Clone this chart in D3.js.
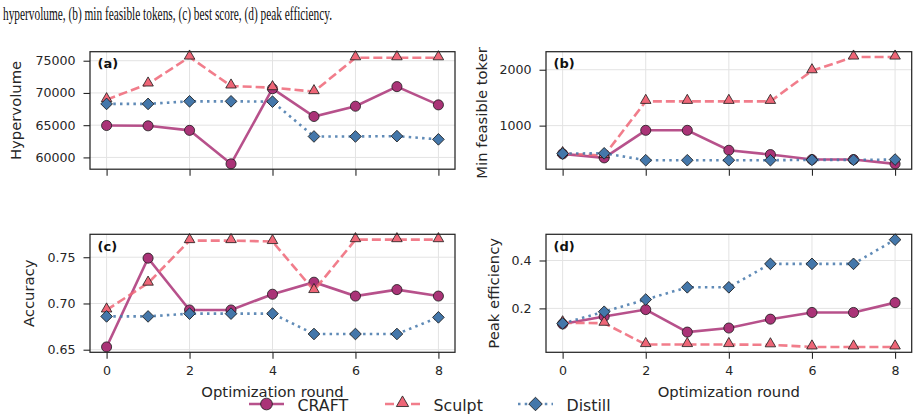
<!DOCTYPE html>
<html>
<head>
<meta charset="utf-8">
<script src="https://cdn.jsdelivr.net/npm/d3@7"></script>
<style>
  html, body { margin: 0; padding: 0; background: #fff; }
  svg { display: block; }
  text { font-family: "DejaVu Sans", sans-serif; }
</style>
</head>
<body>
<svg id="chart" width="919" height="420"></svg>
<script>
// ---------- data ----------
const rounds = [0, 1, 2, 3, 4, 5, 6, 7, 8];
const seriesNames = ["CRAFT", "Sculpt", "Distill"];

const hvCraft   = [64950, 64900, 64200, 59000, 70660, 66350, 67940, 70980, 68150];
const hvSculpt  = [68960, 71390, 75570, 71080, 70820, 70200, 75460, 75460, 75460];
const hvDistill = [68300, 68300, 68700, 68700, 68650, 63250, 63250, 63300, 62800];

const tokCraft   = [494, 423, 916, 916, 559, 482, 393, 393, 316];
const tokSculpt  = [500, 465, 1434, 1434, 1434, 1434, 1982, 2227, 2227];
const tokDistill = [500, 505, 381, 381, 381, 381, 387, 387, 393];

const accCraft   = [0.653, 0.749, 0.693, 0.693, 0.710, 0.723, 0.708, 0.715, 0.708];
const accSculpt  = [0.693, 0.722, 0.768, 0.768, 0.767, 0.714, 0.769, 0.769, 0.769];
const accDistill = [0.686, 0.686, 0.689, 0.689, 0.689, 0.667, 0.667, 0.667, 0.685];

const effCraft   = [0.135, 0.166, 0.195, 0.101, 0.118, 0.155, 0.183, 0.183, 0.224];
const effSculpt  = [0.140, 0.138, 0.049, 0.049, 0.049, 0.048, 0.039, 0.039, 0.039];
const effDistill = [0.137, 0.186, 0.237, 0.288, 0.288, 0.386, 0.386, 0.386, 0.487];

const xTicks = [0, 2, 4, 6, 8];
const hvTicks = [60000, 65000, 70000, 75000];
const tokTicks = [1000, 2000];
const accTicks = [0.65, 0.70, 0.75];
const effTicks = [0.2, 0.4];

const panelLetters = ["(a)", "(b)", "(c)", "(d)"];
const yLabels = ["Hypervolume", "Min feasible tokens", "Accuracy", "Peak efficiency"];
const xLabel = "Optimization round";
const caption = "hypervolume, (b) min feasible tokens, (c) best score, (d) peak efficiency.";

// ---------- styles ----------
const colors = { CRAFT: "#AA3377", Sculpt: "#EE6677", Distill: "#4477AA" };
const dashes = { CRAFT: null, Sculpt: "9,4", Distill: "2.5,4.2" };
const markerTypes = { CRAFT: d3.symbolCircle, Sculpt: d3.symbolTriangle, Distill: d3.symbolSquare };
const markerSizes = { CRAFT: 80, Sculpt: 48, Distill: 68 };
const markerRot = { CRAFT: 0, Sculpt: 0, Distill: 45 };
const markerDy = { CRAFT: 0, Sculpt: -1, Distill: 0 };

const svg = d3.select("#chart");

const defs = svg.append("defs");
defs.append("clipPath").attr("id", "figclip")
  .append("rect").attr("x", 0).attr("y", 42).attr("width", 919).attr("height", 378);
defs.append("clipPath").attr("id", "labclip")
  .append("rect").attr("x", 0).attr("y", 47).attr("width", 919).attr("height", 373);

// caption
svg.append("text")
  .attr("x", 3).attr("y", 19.5)
  .style("font-family", "'Liberation Serif', 'Times New Roman', serif")
  .attr("font-size", 18)
  .attr("fill", "#111")
  .attr("textLength", 329)
  .attr("lengthAdjust", "spacingAndGlyphs")
  .text(caption);

const fig = svg.append("g").attr("clip-path", "url(#figclip)");

const panels = [
  { box: [90, 455, 51.7, 169.2], data: [hvCraft, hvSculpt, hvDistill], ticks: hvTicks, fmt: d => d3.format("d")(d), xl: false, ylx: 15, yly: 0 },
  { box: [546, 911.7, 51.7, 169.2], data: [tokCraft, tokSculpt, tokDistill], ticks: tokTicks, fmt: d => d3.format("d")(d), xl: false, ylx: 481, yly: -3 },
  { box: [90, 455, 234.3, 352.3], data: [accCraft, accSculpt, accDistill], ticks: accTicks, fmt: d => d3.format(".2f")(d), xl: true, ylx: 28.5, yly: 0 },
  { box: [546, 911.7, 234.3, 352.3], data: [effCraft, effSculpt, effDistill], ticks: effTicks, fmt: d => d3.format(".1f")(d), xl: true, ylx: 493, yly: 0 }
];

panels.forEach((p, i) => {
  const [x0, x1, y0, y1] = p.box;
  const all = p.data.flat();
  const mn = d3.min(all), mx = d3.max(all), pad = (mx - mn) * 0.05;
  const x = d3.scaleLinear().domain([-0.4, 8.4]).range([x0, x1]);
  const y = d3.scaleLinear().domain([mn - pad, mx + pad]).range([y1, y0]);
  const g = fig.append("g");

  // grid
  g.append("g").selectAll("line").data(xTicks).join("line")
    .attr("x1", d => x(d)).attr("x2", d => x(d)).attr("y1", y0).attr("y2", y1)
    .attr("stroke", "#e3e3e3").attr("stroke-width", 1);
  g.append("g").selectAll("line").data(p.ticks).join("line")
    .attr("y1", d => y(d)).attr("y2", d => y(d)).attr("x1", x0).attr("x2", x1)
    .attr("stroke", "#e3e3e3").attr("stroke-width", 1);

  // series
  seriesNames.forEach((name, si) => {
    const vals = p.data[si];
    const line = d3.line().x((d, k) => x(rounds[k])).y(d => y(d));
    const path = g.append("path").datum(vals)
      .attr("d", line).attr("fill", "none")
      .attr("stroke", colors[name]).attr("stroke-opacity", 0.85)
      .attr("stroke-width", 2.6);
    if (dashes[name]) path.attr("stroke-dasharray", dashes[name]);
    const sym = d3.symbol().type(markerTypes[name]).size(markerSizes[name]);
    g.append("g").selectAll("path").data(vals).join("path")
      .attr("d", sym)
      .attr("transform", (d, k) => `translate(${x(rounds[k])},${y(d) + markerDy[name]}) rotate(${markerRot[name]})`)
      .attr("fill", colors[name]).attr("stroke", "#1a1a1a").attr("stroke-width", 0.8);
  });

  // frame
  g.append("rect").attr("x", x0).attr("y", y0).attr("width", x1 - x0).attr("height", y1 - y0)
    .attr("fill", "none").attr("stroke", "#262626").attr("stroke-width", 1.25);

  // x axis
  const xa = d3.axisBottom(x).tickValues(xTicks).tickSize(6.5).tickPadding(7)
    .tickFormat(p.xl ? d3.format("d") : () => "");
  const xg = g.append("g").attr("transform", `translate(0,${y1})`).call(xa);
  xg.select(".domain").remove();
  xg.selectAll("line").attr("stroke", "#262626").attr("stroke-width", 1.1);
  xg.selectAll("text").attr("font-size", 12.6).attr("fill", "#262626")
    .style("font-family", "'DejaVu Sans', sans-serif");

  // y axis
  const ya = d3.axisLeft(y).tickValues(p.ticks).tickSize(6.5).tickPadding(8).tickFormat(p.fmt);
  const yg = g.append("g").attr("transform", `translate(${x0},0)`).call(ya);
  yg.select(".domain").remove();
  yg.selectAll("line").attr("stroke", "#262626").attr("stroke-width", 1.1);
  yg.selectAll("text").attr("font-size", 12.6).attr("fill", "#262626")
    .style("font-family", "'DejaVu Sans', sans-serif");

  // panel letter
  g.append("text").attr("x", x0 + 7.5).attr("y", y0 + 16.5)
    .attr("font-size", 13).attr("font-weight", "bold").attr("fill", "#111")
    .text(panelLetters[i]);

  // y label
  g.append("g").attr("clip-path", "url(#labclip)").append("text")
    .attr("transform", `translate(${p.ylx},${(y0 + y1) / 2 + p.yly}) rotate(-90)`)
    .attr("text-anchor", "middle").attr("dominant-baseline", "central")
    .attr("font-size", 14.8).attr("fill", "#262626")
    .text(yLabels[i]);

  // x label
  if (p.xl) {
    g.append("text").attr("x", (x0 + x1) / 2).attr("y", 396.5)
      .attr("text-anchor", "middle").attr("font-size", 14.8).attr("fill", "#262626")
      .text(xLabel);
  }
});

// legend
const legendX = [249, 385, 518];
const legendY = 404;
const lg = fig.append("g");
seriesNames.forEach((name, si) => {
  const lx = legendX[si];
  const l = lg.append("line").attr("x1", lx).attr("x2", lx + 35).attr("y1", legendY).attr("y2", legendY)
    .attr("stroke", colors[name]).attr("stroke-opacity", 0.85).attr("stroke-width", 2.6);
  if (dashes[name]) l.attr("stroke-dasharray", dashes[name]);
  lg.append("path").attr("d", d3.symbol().type(markerTypes[name]).size(markerSizes[name] * 1.35)())
    .attr("transform", `translate(${lx + 17.5},${legendY + markerDy[name]}) rotate(${markerRot[name]})`)
    .attr("fill", colors[name]).attr("stroke", "#1a1a1a").attr("stroke-width", 0.8);
  lg.append("text").attr("x", lx + 48.5).attr("y", legendY + 6.5)
    .attr("font-size", 15.8).attr("fill", "#262626").text(name);
});
</script>
</body>
</html>
